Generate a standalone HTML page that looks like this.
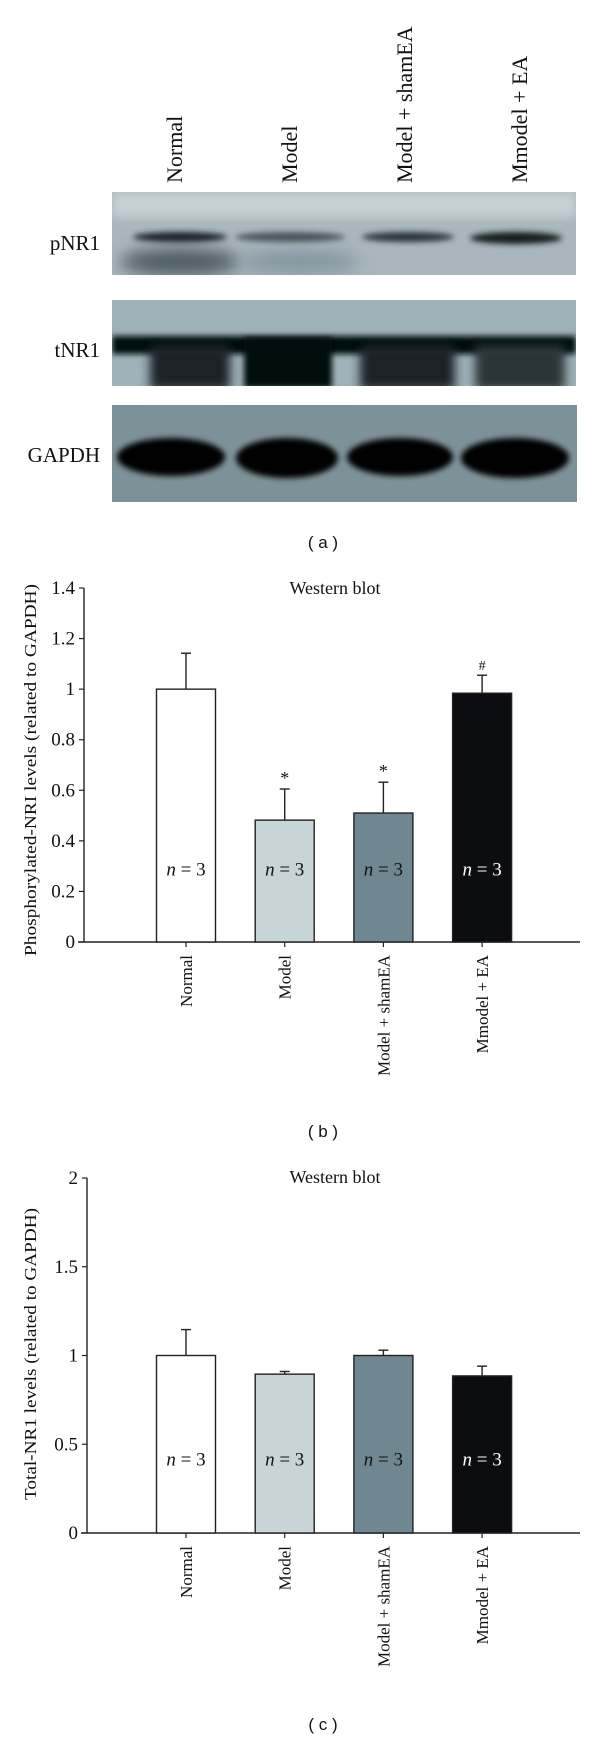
<!DOCTYPE html>
<html><head><meta charset="utf-8"><style>
html,body{margin:0;padding:0;background:#fff;}
svg{display:block;}
text{font-family:"Liberation Serif",serif;}
.sans{font-family:"Liberation Sans",sans-serif;}
</style></head><body>
<svg id="fig" width="600" height="1737" viewBox="0 0 600 1737" fill="#111">
<defs>
<filter id="b3" x="-20%" y="-50%" width="140%" height="200%"><feGaussianBlur stdDeviation="3"/></filter>
<filter id="b5" x="-20%" y="-50%" width="140%" height="200%"><feGaussianBlur stdDeviation="5"/></filter>
<filter id="b8" x="-30%" y="-80%" width="160%" height="260%"><feGaussianBlur stdDeviation="8"/></filter>
<clipPath id="cp1"><rect x="112" y="192" width="464" height="83"/></clipPath>
<clipPath id="cp2"><rect x="112" y="300" width="464" height="86"/></clipPath>
<clipPath id="cp3"><rect x="112" y="405" width="465" height="97"/></clipPath>
</defs>
<g>
  <g font-size="22">
    <text transform="translate(182,183) rotate(-90)">Normal</text>
    <text transform="translate(297,183) rotate(-90)">Model</text>
    <text transform="translate(412,183) rotate(-90)">Model + shamEA</text>
    <text transform="translate(527,183) rotate(-90)">Mmodel + EA</text>
  </g>
  <text x="100" y="250" font-size="21" text-anchor="end">pNR1</text>
  <text x="100" y="357" font-size="21" text-anchor="end">tNR1</text>
  <text x="100" y="462" font-size="21" text-anchor="end">GAPDH</text>
  <g clip-path="url(#cp1)">
    <rect x="112" y="192" width="464" height="83" fill="#a9b7bc"/>
    <rect x="112" y="192" width="464" height="25" fill="#c6d1d4" filter="url(#b5)"/>
    <ellipse cx="180" cy="262" rx="60" ry="14" fill="#4f5d63" filter="url(#b8)"/>
    <ellipse cx="300" cy="262" rx="60" ry="12" fill="#8596a0" filter="url(#b8)"/>
    <ellipse cx="180" cy="237" rx="47" ry="5" fill="#1c2326" filter="url(#b3)"/>
    <ellipse cx="290" cy="237" rx="55" ry="5" fill="#48555a" filter="url(#b3)"/>
    <ellipse cx="408" cy="237" rx="46" ry="5" fill="#2c3539" filter="url(#b3)"/>
    <ellipse cx="516" cy="238" rx="46" ry="6" fill="#151b1e" filter="url(#b3)"/>
  </g>
  <g clip-path="url(#cp2)">
    <rect x="112" y="300" width="464" height="86" fill="#9fb2b7"/>
    <rect x="112" y="336" width="464" height="18" fill="#050708" filter="url(#b3)"/>
    <rect x="150" y="345" width="80" height="45" fill="#1a2225" filter="url(#b5)"/>
    <rect x="244" y="338" width="88" height="50" fill="#050708" filter="url(#b3)"/>
    <rect x="360" y="345" width="95" height="45" fill="#1a2225" filter="url(#b5)"/>
    <rect x="475" y="345" width="90" height="45" fill="#2a3438" filter="url(#b5)"/>
  </g>
  <g clip-path="url(#cp3)">
    <rect x="112" y="405" width="465" height="97" fill="#7d9298"/>
    <ellipse cx="171" cy="457" rx="54" ry="19" fill="#030405" filter="url(#b3)"/>
    <ellipse cx="287" cy="458" rx="51" ry="20" fill="#030405" filter="url(#b3)"/>
    <ellipse cx="400" cy="457" rx="53" ry="19" fill="#030405" filter="url(#b3)"/>
    <ellipse cx="515" cy="458" rx="54" ry="20" fill="#030405" filter="url(#b3)"/>
  </g>
  <text x="323" y="548" class="sans" font-size="17" text-anchor="middle">( a )</text>
</g>
<g id="chartB"></g>
<text x="323" y="1137" class="sans" font-size="17" text-anchor="middle">( b )</text>
<g id="chartC"></g>
<text x="323" y="1730" class="sans" font-size="17" text-anchor="middle">( c )</text>
</svg>
<script>
const categories = ["Normal","Model","Model + shamEA","Mmodel + EA"];
const barColors = ["#ffffff","#c8d5d8","#6e8790","#0c0d11"];
const pValues = [1.0, 0.482, 0.51, 0.984];
const pErrTop = [1.142, 0.605, 0.632, 1.055];
const pMarks = ["", "*", "*", "#"];
const pTicks = [0, 0.2, 0.4, 0.6, 0.8, 1, 1.2, 1.4];
const pTickLabels = ["0","0.2","0.4","0.6","0.8","1","1.2","1.4"];
const tValues = [1.0, 0.895, 1.0, 0.885];
const tErrTop = [1.146, 0.91, 1.03, 0.94];
const tMarks = ["", "", "", ""];
const tTicks = [0, 0.5, 1, 1.5, 2];
const tTickLabels = ["0","0.5","1","1.5","2"];
const NS = "http://www.w3.org/2000/svg";
function mk(tag, attrs, parent){const e=document.createElementNS(NS,tag);for(const k in attrs)e.setAttribute(k,attrs[k]);parent.appendChild(e);return e;}
function draw(g, cfg){
  const y = v => cfg.y0 - (v/cfg.max)*(cfg.y0-cfg.yTop);
  const x = i => 186 + i*98.7;
  const bw = 59;
  const ax = mk('line',{x1:cfg.ax,y1:cfg.yTop,x2:cfg.ax,y2:cfg.y0,stroke:'#222','stroke-width':1.4},g);
  
  
  const xa = mk('line',{x1:cfg.ax-6,y1:cfg.y0,x2:580,y2:cfg.y0,stroke:'#222','stroke-width':1.4},g);
  
  
  cfg.ticks.forEach((t,i)=>{
    const tk = mk('line',{x1:cfg.ax-5,y1:y(t),x2:cfg.ax,y2:y(t),stroke:'#222','stroke-width':1.2},g);
    
    
    const tl = mk('text',{x:cfg.ax-9,y:y(t)+6,'font-size':19,'text-anchor':'end'},g);
    tl.textContent = cfg.tickLabels[i];
    
    
  });
  const yt = mk('text',{transform:`translate(${cfg.titleX},${cfg.titleY}) rotate(-90)`,'font-size':17,'text-anchor':'middle',textLength:cfg.titleLen,lengthAdjust:'spacingAndGlyphs'},g);
  yt.textContent = cfg.yTitle;
  
  
  const ct = mk('text',{x:335,y:cfg.chartTitleY,'font-size':18,'text-anchor':'middle'},g);
  ct.textContent = 'Western blot';
  
  
  cfg.values.forEach((v,i)=>{
    const cx = x(i);
    const er = mk('line',{x1:cx,y1:y(cfg.err[i]),x2:cx,y2:y(v),stroke:'#222','stroke-width':1.4},g);
    
    
    const cap = mk('line',{x1:cx-5,y1:y(cfg.err[i]),x2:cx+5,y2:y(cfg.err[i]),stroke:'#222','stroke-width':1.4},g);
    
    
    const r = mk('rect',{x:cx-bw/2,y:y(v),width:bw,height:cfg.y0-y(v),fill:barColors[i],stroke:'#222','stroke-width':1.4},g);
    
    
    const tk = mk('line',{x1:cx,y1:cfg.y0,x2:cx,y2:cfg.y0+5,stroke:'#222','stroke-width':1.2},g);
    
    
    const lab = mk('text',{transform:`translate(${cx+6},${cfg.y0+13}) rotate(-90)`,'font-size':17,'text-anchor':'end'},g);
    lab.textContent = categories[i];
    
    
    const n = mk('text',{x:cx,y:y(cfg.nAt)+7,'font-size':19,'text-anchor':'middle',style:'fill:'+(i===3?'#ffffff':'#111111')},g);
    n.innerHTML = '<tspan font-style="italic">n</tspan> = 3';
    
    
    if(cfg.marks[i]){
      const m = mk('text',{x:cx,y:y(cfg.err[i])-5,'font-size':cfg.marks[i]==='#'?14:18,'text-anchor':'middle'},g);
      m.textContent = cfg.marks[i];
      
      
    }
  });
}
draw(document.getElementById('chartB'),{y0:942,yTop:588,max:1.4,ax:84,values:pValues,err:pErrTop,marks:pMarks,ticks:pTicks,tickLabels:pTickLabels,yTitle:'Phosphorylated-NRI levels (related to GAPDH)',titleX:36,titleY:770,titleLen:372,chartTitleY:594,nAt:0.29});
draw(document.getElementById('chartC'),{y0:1533,yTop:1178,max:2,ax:87,values:tValues,err:tErrTop,marks:tMarks,ticks:tTicks,tickLabels:tTickLabels,yTitle:'Total-NR1 levels (related to GAPDH)',titleX:36,titleY:1354,titleLen:292,chartTitleY:1183,nAt:0.42});
</script>
</body></html>
